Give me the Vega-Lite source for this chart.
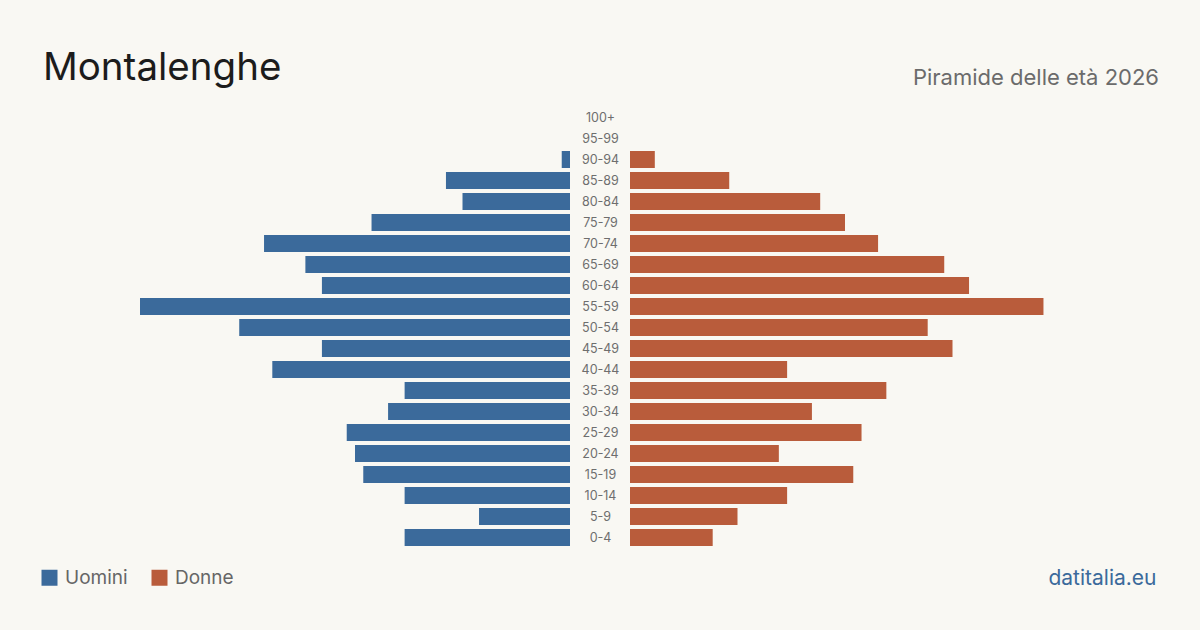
{
  "$schema": "https://vega.github.io/schema/vega-lite/v6.json",
  "background": "#f9f8f3",
  "autosize": {"type": "pad"},
  "padding": {"left": 40, "top": 48, "right": 41, "bottom": 44},
  "data": {
    "values": [
      {"eta": "100+", "sesso": "Uomini", "n": 0},
      {"eta": "95-99", "sesso": "Uomini", "n": 0},
      {"eta": "90-94", "sesso": "Uomini", "n": 1},
      {"eta": "85-89", "sesso": "Uomini", "n": 15},
      {"eta": "80-84", "sesso": "Uomini", "n": 13},
      {"eta": "75-79", "sesso": "Uomini", "n": 24},
      {"eta": "70-74", "sesso": "Uomini", "n": 37},
      {"eta": "65-69", "sesso": "Uomini", "n": 32},
      {"eta": "60-64", "sesso": "Uomini", "n": 30},
      {"eta": "55-59", "sesso": "Uomini", "n": 52},
      {"eta": "50-54", "sesso": "Uomini", "n": 40},
      {"eta": "45-49", "sesso": "Uomini", "n": 30},
      {"eta": "40-44", "sesso": "Uomini", "n": 36},
      {"eta": "35-39", "sesso": "Uomini", "n": 20},
      {"eta": "30-34", "sesso": "Uomini", "n": 22},
      {"eta": "25-29", "sesso": "Uomini", "n": 27},
      {"eta": "20-24", "sesso": "Uomini", "n": 26},
      {"eta": "15-19", "sesso": "Uomini", "n": 25},
      {"eta": "10-14", "sesso": "Uomini", "n": 20},
      {"eta": "5-9", "sesso": "Uomini", "n": 11},
      {"eta": "0-4", "sesso": "Uomini", "n": 20},
      {"eta": "100+", "sesso": "Donne", "n": 0},
      {"eta": "95-99", "sesso": "Donne", "n": 0},
      {"eta": "90-94", "sesso": "Donne", "n": 3},
      {"eta": "85-89", "sesso": "Donne", "n": 12},
      {"eta": "80-84", "sesso": "Donne", "n": 23},
      {"eta": "75-79", "sesso": "Donne", "n": 26},
      {"eta": "70-74", "sesso": "Donne", "n": 30},
      {"eta": "65-69", "sesso": "Donne", "n": 38},
      {"eta": "60-64", "sesso": "Donne", "n": 41},
      {"eta": "55-59", "sesso": "Donne", "n": 50},
      {"eta": "50-54", "sesso": "Donne", "n": 36},
      {"eta": "45-49", "sesso": "Donne", "n": 39},
      {"eta": "40-44", "sesso": "Donne", "n": 19},
      {"eta": "35-39", "sesso": "Donne", "n": 31},
      {"eta": "30-34", "sesso": "Donne", "n": 22},
      {"eta": "25-29", "sesso": "Donne", "n": 28},
      {"eta": "20-24", "sesso": "Donne", "n": 18},
      {"eta": "15-19", "sesso": "Donne", "n": 27},
      {"eta": "10-14", "sesso": "Donne", "n": 19},
      {"eta": "5-9", "sesso": "Donne", "n": 13},
      {"eta": "0-4", "sesso": "Donne", "n": 10}
    ]
  },
  "spacing": 60,
  "bounds": "flush",
  "resolve": {"scale": {"color": "shared", "y": "shared"}, "legend": {"color": "shared"}},
  "hconcat": [
    {
      "width": 430,
      "height": 441,
      "title": {
        "text": "Montalenghe",
        "anchor": "start",
        "frame": "group",
        "dx": -97,
        "offset": -11,
        "baseline": "alphabetic",
        "fontSize": 38.5,
        "fontWeight": 400,
        "color": "#1c1c1c"
      },
      "transform": [{"filter": "datum.sesso === 'Uomini'"}],
      "mark": {"type": "bar"},
      "encoding": {
        "y": {
          "field": "eta",
          "type": "nominal",
          "scale": {
            "domain": ["100+", "95-99", "90-94", "85-89", "80-84", "75-79", "70-74", "65-69", "60-64", "55-59", "50-54", "45-49", "40-44", "35-39", "30-34", "25-29", "20-24", "15-19", "10-14", "5-9", "0-4"],
            "paddingInner": 0.19,
            "paddingOuter": 0.095
          },
          "axis": null
        },
        "x": {
          "field": "n",
          "type": "quantitative",
          "scale": {"domain": [0, 52], "reverse": true, "nice": false},
          "axis": null
        },
        "color": {
          "field": "sesso",
          "type": "nominal",
          "scale": {"domain": ["Uomini", "Donne"], "range": ["#3b6a9b", "#b95c3b"]},
          "legend": {
            "orient": "none",
            "legendX": -100,
            "legendY": 461,
            "direction": "horizontal",
            "title": null,
            "symbolType": "square",
            "symbolSize": 256,
            "symbolStrokeWidth": 0,
            "symbolOpacity": 1,
            "labelFontSize": 19,
            "labelColor": "#666666",
            "labelOffset": 6,
            "columnPadding": 22
          }
        }
      }
    },
    {
      "width": 430,
      "height": 441,
      "title": {
        "text": "Piramide delle età 2026",
        "anchor": "end",
        "frame": "group",
        "dx": 99,
        "offset": 0,
        "baseline": "alphabetic",
        "fontSize": 22,
        "fontWeight": 400,
        "color": "#6b6b6b"
      },
      "transform": [{"filter": "datum.sesso === 'Donne'"}],
      "mark": {"type": "bar"},
      "encoding": {
        "y": {
          "field": "eta",
          "type": "nominal",
          "scale": {
            "domain": ["100+", "95-99", "90-94", "85-89", "80-84", "75-79", "70-74", "65-69", "60-64", "55-59", "50-54", "45-49", "40-44", "35-39", "30-34", "25-29", "20-24", "15-19", "10-14", "5-9", "0-4"],
            "paddingInner": 0.19,
            "paddingOuter": 0.095
          },
          "axis": {
            "orient": "left",
            "title": null,
            "domain": false,
            "ticks": false,
            "tickSize": 0,
            "grid": false,
            "labelAlign": "center",
            "labelPadding": 30,
            "labelFontSize": 12.5,
            "labelColor": "#6e6e6e"
          }
        },
        "x": {
          "field": "n",
          "type": "quantitative",
          "scale": {"domain": [0, 52], "nice": false},
          "axis": {
            "title": "datitalia.eu",
            "labels": false,
            "ticks": false,
            "domain": false,
            "grid": false,
            "titleColor": "#3b6a9b",
            "titleFontSize": 21,
            "titleFontWeight": 400,
            "titleAlign": "right",
            "titleBaseline": "alphabetic",
            "titleX": 526,
            "titleY": 36
          }
        },
        "color": {
          "field": "sesso",
          "type": "nominal",
          "scale": {"domain": ["Uomini", "Donne"], "range": ["#3b6a9b", "#b95c3b"]}
        }
      }
    }
  ],
  "config": {
    "font": "Inter",
    "view": {"stroke": null},
    "bar": {"opacity": 1}
  }
}
